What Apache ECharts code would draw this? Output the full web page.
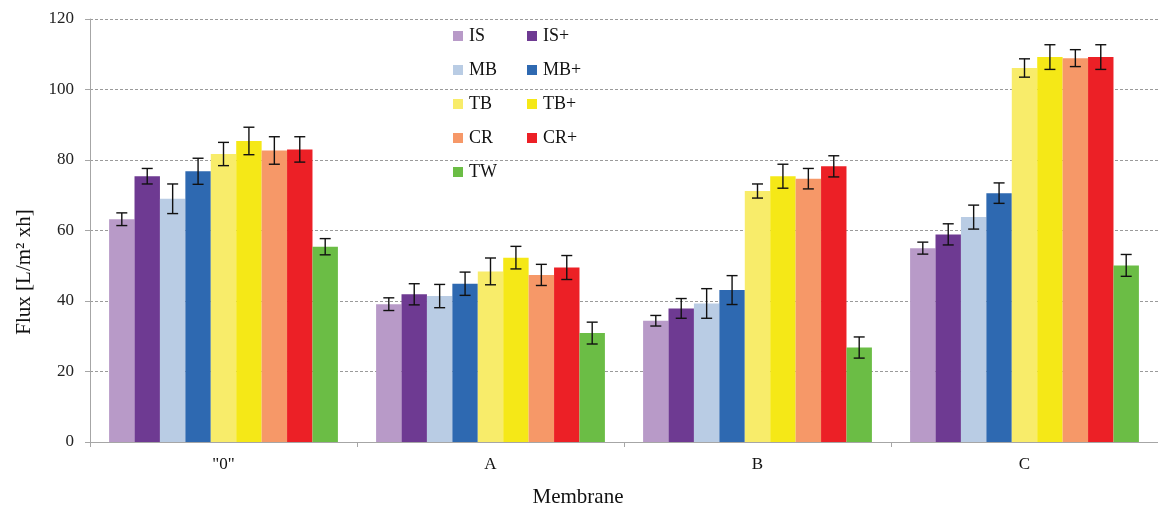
<!DOCTYPE html>
<html>
<head>
<meta charset="utf-8">
<script src="https://cdn.jsdelivr.net/npm/echarts@6/dist/echarts.min.js"></script>
<style>
  html, body { margin: 0; padding: 0; background: #fff; }
  #chart { width: 1158px; height: 511px; }
</style>
</head>
<body>
<div id="chart"></div>
<script>
// membranes on the x axis
const categories = ['"0"', 'A', 'B', 'C'];
const seriesNames = ['IS', 'IS+', 'MB', 'MB+', 'TB', 'TB+', 'CR', 'CR+', 'TW'];
const colors = ['#b89ac8', '#6e3a92', '#b9cce4', '#2e69b1', '#f8ec6a', '#f5e817', '#f69868', '#ec2026', '#6bbd45'];

// mean flux per series, one value per membrane
const IS     = [63.2, 39.1, 34.4, 55.0];
const ISplus = [75.4, 41.9, 37.9, 58.9];
const MB     = [69.0, 41.4, 39.3, 63.8];
const MBplus = [76.8, 44.9, 43.1, 70.6];
const TB     = [81.7, 48.4, 71.2, 106.1];
const TBplus = [85.4, 52.3, 75.4, 109.2];
const CR     = [82.7, 47.4, 74.7, 108.9];
const CRplus = [83.0, 49.5, 78.2, 109.2];
const TW     = [55.4, 30.9, 26.8, 50.1];

// standard deviations (error bars)
const IS_err     = [1.8, 1.8, 1.5, 1.7];
const ISplus_err = [2.2, 3.0, 2.8, 3.0];
const MB_err     = [4.2, 3.3, 4.2, 3.4];
const MBplus_err = [3.7, 3.3, 4.1, 2.9];
const TB_err     = [3.3, 3.8, 2.0, 2.6];
const TBplus_err = [3.9, 3.2, 3.4, 3.5];
const CR_err     = [3.9, 3.0, 2.9, 2.4];
const CRplus_err = [3.6, 3.4, 3.0, 3.5];
const TW_err     = [2.3, 3.1, 3.0, 3.1];

const yTicks = [0, 20, 40, 60, 80, 100, 120];

const values = [IS, ISplus, MB, MBplus, TB, TBplus, CR, CRplus, TW];
const errors = [IS_err, ISplus_err, MB_err, MBplus_err, TB_err, TBplus_err, CR_err, CRplus_err, TW_err];

const font = '"Liberation Serif", "Times New Roman", serif';
const catGap = 0.143;

let barSeries = seriesNames.map((name, i) => ({
  name: name,
  type: 'bar',
  data: values[i],
  barGap: 0,
  barCategoryGap: (catGap * 100) + '%',
  itemStyle: { color: colors[i] }
}));

// all error bars in one custom series: [catIndex, seriesIndex, mean, err]
let errData = [];
values.forEach((vals, s) => {
  vals.forEach((v, c) => {
    errData.push([c, s, v, errors[s][c]]);
  });
});

let errSeries = {
  type: 'custom',
  name: 'err',
  data: errData,
  encode: { x: 0, y: 2 },
  z: 10,
  renderItem: function (params, api) {
    let c = api.value(0);
    let s = api.value(1);
    let mean = api.value(2);
    let err = api.value(3);
    let band = api.size([1, 0])[0];
    let groupW = band * (1 - catGap);
    let barW = groupW / seriesNames.length;
    let center = api.coord([c, mean]);
    let x = center[0] - groupW / 2 + (s + 0.5) * barW;
    let yTop = api.coord([c, mean + err])[1];
    let yBot = api.coord([c, mean - err])[1];
    let half = 5.5;
    let style = { stroke: '#111', lineWidth: 1.4 };
    return {
      type: 'group',
      children: [
        { type: 'line', shape: { x1: x, y1: yTop, x2: x, y2: yBot }, style: style },
        { type: 'line', shape: { x1: x - half, y1: yTop, x2: x + half, y2: yTop }, style: style },
        { type: 'line', shape: { x1: x - half, y1: yBot, x2: x + half, y2: yBot }, style: style }
      ]
    };
  }
};

let legendBase = {
  orient: 'vertical',
  itemWidth: 10,
  itemHeight: 10,
  itemGap: 16,
  icon: 'rect',
  textStyle: { fontFamily: font, fontSize: 18, color: '#111', padding: [0, 0, 0, 1] },
  padding: 0
};

let option = {
  animation: false,
  backgroundColor: '#fff',
  grid: { left: 90, right: -5, top: 19, bottom: 69 },
  legend: [
    Object.assign({}, legendBase, { left: 453, top: 27, data: ['IS', 'MB', 'TB', 'CR', 'TW'] }),
    Object.assign({}, legendBase, { left: 527, top: 27, data: ['IS+', 'MB+', 'TB+', 'CR+'] })
  ],
  xAxis: {
    type: 'category',
    data: categories,
    axisLine: { lineStyle: { color: '#a6a6a6', width: 1 } },
    axisTick: { show: true, length: 5, lineStyle: { color: '#a6a6a6' } },
    axisLabel: { fontFamily: font, fontSize: 17, color: '#111', margin: 14 }
  },
  yAxis: {
    type: 'value',
    min: 0,
    max: 120,
    interval: 20,
    axisLine: { show: true, lineStyle: { color: '#a6a6a6', width: 1 } },
    axisTick: { show: true, length: 5, lineStyle: { color: '#a6a6a6' } },
    axisLabel: {
      fontFamily: font, fontSize: 17, color: '#222', margin: 16,
      formatter: v => yTicks.indexOf(v) >= 0 ? String(v) : ''
    },
    splitLine: { show: true, lineStyle: { color: '#9a9a9a', type: [3, 2], width: 1 } }
  },
  graphic: [
    {
      type: 'text',
      x: 24, y: 272,
      rotation: Math.PI / 2,
      style: {
        text: 'Flux [L/m² xh]',
        font: '21px ' + font,
        fill: '#111',
        textAlign: 'center',
        textVerticalAlign: 'middle'
      }
    },
    {
      type: 'text',
      x: 578, y: 497,
      style: {
        text: 'Membrane',
        font: '21px ' + font,
        fill: '#111',
        textAlign: 'center',
        textVerticalAlign: 'middle'
      }
    }
  ],
  series: barSeries.concat([errSeries])
};

let chart = echarts.init(document.getElementById('chart'));
chart.setOption(option);
</script>
</body>
</html>
